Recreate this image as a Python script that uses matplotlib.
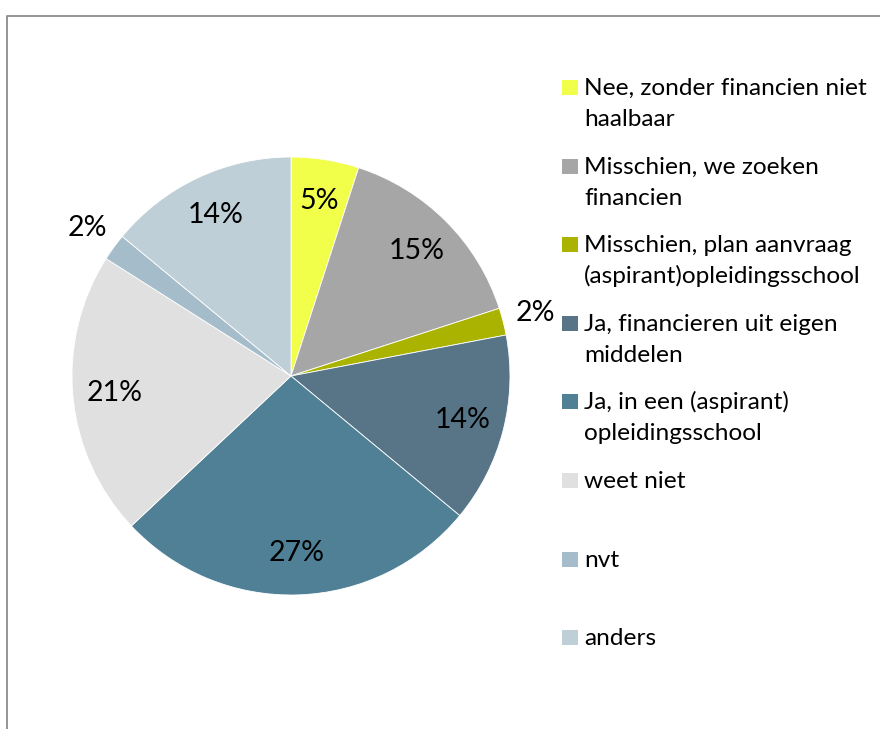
import matplotlib
matplotlib.use('Agg')
import matplotlib.pyplot as plt
from matplotlib.patches import Rectangle
from matplotlib.lines import Line2D
import numpy as np

labels = ['Nee, zonder financien niet\nhaalbaar',
          'Misschien, we zoeken\nfinancien',
          'Misschien, plan aanvraag\n(aspirant)opleidingsschool',
          'Ja, financieren uit eigen\nmiddelen',
          'Ja, in een (aspirant)\nopleidingsschool',
          'weet niet',
          'nvt',
          'anders']
values = [5, 15, 2, 14, 27, 21, 2, 14]
colors = ['#F2FF4A', '#A6A6A6', '#AAB400', '#577586',
          '#4F8096', '#E0E0E0', '#A5BDCA', '#BFCFD8']

plt.rcParams['font.family'] = ['Lato', 'DejaVu Sans']

W, H = 880, 729
fig = plt.figure(figsize=(W / 100, H / 100), dpi=100)

def fx(px):
    return px / W

def fy(py):
    return 1 - py / H

# pie axes, centre (291, 376), radius 219 px
cx, cy, r = 291, 376, 219
ax = fig.add_axes([fx(cx - r), fy(cy + r), 2 * r / W, 2 * r / H])
wedges, texts = ax.pie(values, colors=colors, startangle=90, counterclock=False,
                       radius=1, wedgeprops=dict(edgecolor='white', linewidth=0.6))
ax.set_xlim(-1, 1)
ax.set_ylim(-1, 1)
ax.axis('off')

for w, v in zip(wedges, values):
    mid = np.deg2rad((w.theta1 + w.theta2) / 2)
    d = 1.15 if v < 3 else 0.81
    ax.text(d * np.cos(mid), d * np.sin(mid), '%d%%' % v, ha='center', va='center',
            fontsize=20.5, color='black')

# legend drawn by hand to keep fixed spacing like the original
y0, step, lstep = 95, 78.6, 31
for i, (lab, col) in enumerate(zip(labels, colors)):
    base = y0 + i * step
    fig.patches.append(Rectangle((fx(562), fy(base)), 16 / W, 15 / H,
                                 transform=fig.transFigure, facecolor=col,
                                 edgecolor='none'))
    for j, line in enumerate(lab.split('\n')):
        fig.text(fx(584), fy(base + j * lstep), line, ha='left', va='baseline',
                 fontsize=17.6, color='black')

# chart border (only top and left visible)
fig.lines.append(Line2D([fx(7), fx(7), 1], [0, fy(15.5), fy(15.5)],
                        transform=fig.transFigure, color='#8C8C8C', linewidth=1.3))

plt.savefig('out.png', dpi=100)
plt.close()
